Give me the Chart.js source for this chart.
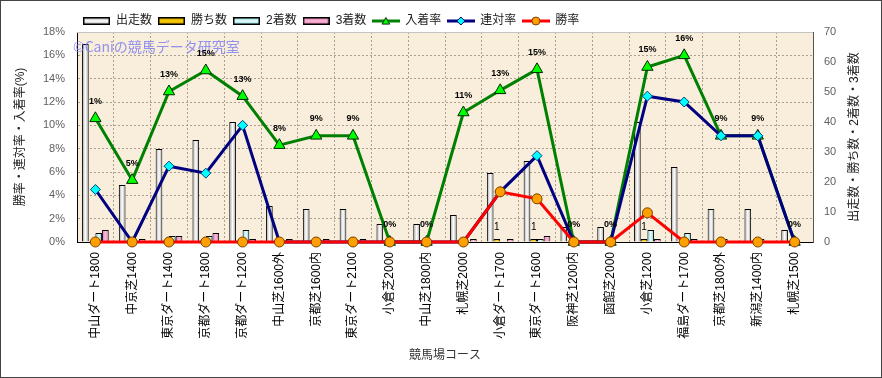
<!DOCTYPE html>
<html>
<head>
<meta charset="utf-8">
<script src="https://cdn.jsdelivr.net/npm/chart.js@4.4.0/dist/chart.umd.min.js"></script>
<style>
    html, body { margin: 0; padding: 0; background: #fff; }
    #wrap { width: 880px; height: 376px; border: 1px solid #444; }
</style>
</head>
<body>
<div id="wrap"><canvas id="courseChart" width="880" height="376"></canvas></div>
<script>
const courses = [
    '中山ダート1800', '中京芝1400', '東京ダート1400', '京都ダート1800', '京都ダート1200',
    '中山芝1600外', '京都芝1600内', '東京ダート2100', '小倉芝2000', '中山芝1800内',
    '札幌芝2000', '小倉ダート1700', '東京ダート1600', '阪神芝1200内', '函館芝2000',
    '小倉芝1200', '福島ダート1700', '京都芝1800外', '新潟芝1400内', '札幌芝1500'
];

// counts (right axis)
const runs    = [66, 19, 31, 34, 40, 12, 11, 11, 6, 6, 9, 23, 27, 5, 5, 40, 25, 11, 11, 4];
const wins    = [0, 0, 0, 0, 0, 0, 0, 0, 0, 0, 0, 1, 1, 0, 0, 1, 0, 0, 0, 0];
const seconds = [3, 0, 2, 2, 4, 0, 0, 0, 0, 0, 0, 0, 1, 0, 0, 4, 3, 1, 1, 0];
const thirds  = [4, 1, 2, 3, 1, 1, 1, 1, 0, 0, 1, 1, 2, 0, 0, 1, 1, 0, 0, 0];

// rates in % (left axis)
const placeRate    = [10.6, 5.3, 12.9, 14.7, 12.5, 8.3, 9.1, 9.1, 0, 0, 11.1, 13.0, 14.8, 0, 0, 15.0, 16.0, 9.1, 9.1, 0];
const quinellaRate = [4.5, 0, 6.5, 5.9, 10.0, 0, 0, 0, 0, 0, 0, 4.3, 7.4, 0, 0, 12.5, 12.0, 9.1, 9.1, 0];
const winRate      = [0, 0, 0, 0, 0, 0, 0, 0, 0, 0, 0, 4.3, 3.7, 0, 0, 2.5, 0, 0, 0, 0];
const placeRateLabels = ['1%', '5%', '13%', '15%', '13%', '8%', '9%', '9%', '0%', '0%',
                         '11%', '13%', '15%', '0%', '0%', '15%', '16%', '9%', '9%', '0%'];

const rateMax = 18;
const countMax = 70;

const FONT = "'Liberation Sans', 'Noto Sans CJK JP', sans-serif";

// horizontal gradient across each bar
function barFill(edge, mid) {
    return (context) => {
        const el = context.element;
        if (!el || el.width == null || isNaN(el.x)) return mid;
        const g = context.chart.ctx.createLinearGradient(el.x - el.width / 2, 0, el.x + el.width / 2, 0);
        g.addColorStop(0, edge);
        g.addColorStop(0.5, mid);
        g.addColorStop(1, edge);
        return g;
    };
}

function markerPath(ctx, style, x, y, r) {
    ctx.beginPath();
    if (style === 'triangle') {
        ctx.moveTo(x, y - r);
        ctx.lineTo(x + r * 0.95, y + r * 0.65);
        ctx.lineTo(x - r * 0.95, y + r * 0.65);
        ctx.closePath();
    } else if (style === 'diamond') {
        ctx.moveTo(x, y - r);
        ctx.lineTo(x + r, y);
        ctx.lineTo(x, y + r);
        ctx.lineTo(x - r, y);
        ctx.closePath();
    } else {
        ctx.arc(x, y, r, 0, Math.PI * 2);
    }
}

// legend swatches
function barIcon(edge, mid) {
    const c = document.createElement('canvas');
    c.width = 27; c.height = 8;
    const ctx = c.getContext('2d');
    const g = ctx.createLinearGradient(0, 0, 0, 8);
    g.addColorStop(0, edge); g.addColorStop(0.5, mid); g.addColorStop(1, edge);
    ctx.fillStyle = g;
    ctx.fillRect(0, 0, 27, 8);
    ctx.strokeStyle = '#000';
    ctx.lineWidth = 1.5;
    ctx.strokeRect(0.75, 0.75, 25.5, 6.5);
    return c;
}
function lineIcon(color, fill, border, style) {
    const c = document.createElement('canvas');
    c.width = 28; c.height = 12;
    const ctx = c.getContext('2d');
    ctx.strokeStyle = color;
    ctx.lineWidth = 3;
    ctx.beginPath(); ctx.moveTo(0, 6); ctx.lineTo(28, 6); ctx.stroke();
    markerPath(ctx, style, 14, style === 'triangle' ? 6.5 : 6, 4);
    ctx.fillStyle = fill; ctx.fill();
    ctx.lineWidth = 1; ctx.strokeStyle = border; ctx.stroke();
    return c;
}

// indexed by dataset index
const legendIcons = [
    barIcon('#9a9a9a', '#ffffff'),
    barIcon('#b88a00', '#ffd000'),
    barIcon('#7cc8c8', '#e4ffff'),
    barIcon('#d070a0', '#ffb8d8'),
    lineIcon('#008000', '#00ff00', '#003000', 'triangle'),
    lineIcon('#000080', '#00ffff', '#000080', 'diamond'),
    lineIcon('#ff0000', '#ffa000', '#804000', 'circle')
];

// shrink the legend box so the plot starts right under it
const legendFit = {
    id: 'legendFit',
    beforeInit(chart) {
        const fit = chart.legend.fit;
        chart.legend.fit = function () {
            fit.call(this);
            this.height = 23;
        };
    }
};

const extras = {
    id: 'extras',
    beforeDraw(chart) {
        const { ctx, chartArea: a } = chart;
        ctx.save();
        ctx.fillStyle = '#f8eedb';
        ctx.fillRect(a.left, a.top, a.right - a.left, a.bottom - a.top);
        ctx.restore();
    },
    beforeDatasetsDraw(chart) {
        const { ctx, chartArea: a } = chart;
        ctx.save();
        ctx.strokeStyle = '#c4c4c4';
        ctx.lineWidth = 1;
        ctx.beginPath();
        ctx.moveTo(a.left, a.top + 0.5);
        ctx.lineTo(a.right, a.top + 0.5);
        ctx.stroke();
        ctx.restore();
    },
    afterDatasetsDraw(chart) {
        const { ctx, chartArea: a } = chart;
        ctx.save();
        // watermark
        ctx.font = "14px 'Noto Sans CJK JP', sans-serif";
        ctx.fillStyle = 'rgba(128, 128, 240, 0.85)';
        ctx.textAlign = 'left';
        ctx.textBaseline = 'middle';
        ctx.fillText('©Caniの競馬データ研究室', a.left - 4, a.top + 15);

        // 入着率 labels
        const placeMeta = chart.getDatasetMeta(4);
        ctx.font = "bold 9px 'Liberation Sans', sans-serif";
        ctx.fillStyle = '#000';
        ctx.textAlign = 'center';
        placeMeta.data.forEach((pt, i) => {
            ctx.fillText(placeRateLabels[i], pt.x, pt.y - 17);
        });

        // 勝ち数 labels
        const winMeta = chart.getDatasetMeta(1);
        ctx.font = "10px 'Liberation Sans', sans-serif";
        winMeta.data.forEach((bar, i) => {
            if (wins[i] > 0) ctx.fillText(String(wins[i]), bar.x, bar.y - 12);
        });

        ctx.restore();
    },
    afterDraw(chart) {
        const { ctx, chartArea: a } = chart;
        ctx.save();
        ctx.translate(854, (a.top + a.bottom) / 2);
        ctx.rotate(-Math.PI / 2);
        ctx.font = '12px ' + FONT;
        ctx.fillStyle = '#222';
        ctx.textAlign = 'center';
        ctx.textBaseline = 'middle';
        ctx.fillText('出走数・勝ち数・2着数・3着数', 0, 0);
        ctx.restore();
    }
};

const barCommon = {
    type: 'bar',
    yAxisID: 'y1',
    borderColor: '#000',
    borderWidth: 1,
    categoryPercentage: 0.725,
    barPercentage: 1,
    order: 5
};
const lineCommon = {
    type: 'line',
    yAxisID: 'y',
    borderWidth: 3,
    pointBorderWidth: 1,
    clip: false,
    tension: 0
};

const chart = new Chart(document.getElementById('courseChart'), {
    data: {
        labels: courses,
        datasets: [
            { ...barCommon, label: '出走数', data: runs, backgroundColor: barFill('#a0a0a0', '#ffffff') },
            { ...barCommon, label: '勝ち数', data: wins, backgroundColor: barFill('#c09000', '#ffd200') },
            { ...barCommon, label: '2着数', data: seconds, backgroundColor: barFill('#80cccc', '#e4ffff') },
            { ...barCommon, label: '3着数', data: thirds, backgroundColor: barFill('#d478a8', '#ffbcdc') },
            {
                ...lineCommon, label: '入着率', data: placeRate, order: 3,
                borderColor: '#008000', pointStyle: 'triangle', pointRadius: 6.5,
                pointBackgroundColor: '#00ff00', pointBorderColor: '#002800'
            },
            {
                ...lineCommon, label: '連対率', data: quinellaRate, order: 2,
                borderColor: '#000080', pointStyle: 'rectRot', pointRadius: 5,
                pointBackgroundColor: '#00ffff', pointBorderColor: '#004080'
            },
            {
                ...lineCommon, label: '勝率', data: winRate, order: 1,
                borderColor: '#ff0000', pointStyle: 'circle', pointRadius: 5,
                pointBackgroundColor: '#ffa000', pointBorderColor: '#7a4000'
            }
        ]
    },
    options: {
        responsive: false,
        animation: false,
        layout: { padding: { top: 8, left: 0, right: 0, bottom: 0 } },
        plugins: {
            tooltip: { enabled: false },
            legend: {
                position: 'top',
                align: 'start',
                fullSize: false,
                labels: {
                    usePointStyle: true,
                    pointStyleWidth: 27,
                    padding: 6,
                    color: '#222',
                    font: { family: FONT, size: 12 },
                    // legend follows dataset order, not draw order
                    sort: (a, b) => a.datasetIndex - b.datasetIndex,
                    generateLabels(c) {
                        const items = Chart.defaults.plugins.legend.labels.generateLabels(c);
                        items.forEach((it) => { it.pointStyle = legendIcons[it.datasetIndex]; });
                        return items;
                    }
                }
            }
        },
        scales: {
            x: {
                offset: true,
                grid: { color: '#a89f90', lineWidth: 1, drawTicks: false },
                border: { color: '#000', width: 1, dash: [2, 2] },
                ticks: {
                    autoSkip: false, minRotation: 90, maxRotation: 90, padding: 10,
                    color: '#000', font: { family: FONT, size: 12 }
                },
                title: {
                    display: true, text: '競馬場コース', color: '#333',
                    font: { family: FONT, size: 12 }, padding: { top: 0, bottom: 14 }
                },
                afterFit(s) { s.height = 135; }
            },
            y: {
                position: 'left',
                min: 0,
                max: rateMax,
                grid: { color: '#a89f90', lineWidth: 1, drawTicks: false },
                border: { color: '#000', width: 1, dash: [2, 2] },
                ticks: {
                    stepSize: 2, padding: 12, color: '#606060',
                    font: { family: FONT, size: 11 },
                    callback: (v) => v + '%'
                },
                title: {
                    display: true, text: '勝率・連対率・入着率(%)', color: '#222',
                    font: { family: FONT, size: 12 }, padding: { top: 12, bottom: 0 }
                },
                afterFit(s) { s.width = 76; }
            },
            y1: {
                position: 'right',
                min: 0,
                max: countMax,
                grid: { drawOnChartArea: false, drawTicks: false },
                border: { color: '#555', width: 1 },
                ticks: {
                    stepSize: 10, padding: 11, color: '#606060',
                    font: { family: FONT, size: 11 }
                },
                afterFit(s) { s.width = 68; }
            }
        }
    },
    plugins: [legendFit, extras]
});

// second pass so the bar gradients can read each bar's position
chart.update();
</script>
</body>
</html>
